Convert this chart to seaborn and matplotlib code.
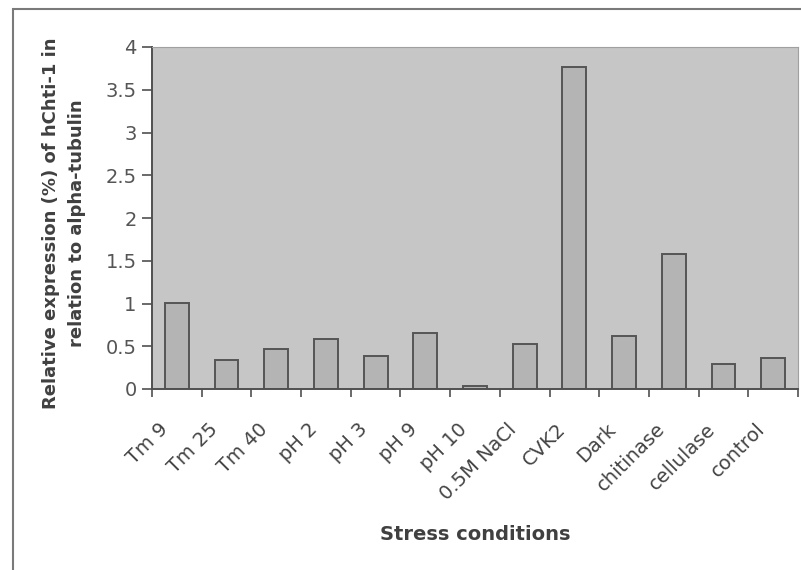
import numpy as np
import pandas as pd
import matplotlib
matplotlib.use('Agg')
import matplotlib.pyplot as plt
import matplotlib.transforms as mtransforms
import seaborn as sns
from matplotlib.patches import Rectangle

# Values
conditions = ['Tm 9', 'Tm 25', 'Tm 40', 'pH 2', 'pH 3', 'pH 9', 'pH 10',
              '0.5M NaCl', 'CVK2', 'Dark', 'chitinase', 'cellulase', 'control']
expression = [1.01, 0.34, 0.47, 0.59, 0.39, 0.66, 0.04,
              0.53, 3.77, 0.62, 1.58, 0.29, 0.36]
y_ticks = [0, 0.5, 1, 1.5, 2, 2.5, 3, 3.5, 4]
y_tick_labels = ['0', '0.5', '1', '1.5', '2', '2.5', '3', '3.5', '4']

data = pd.DataFrame({'condition': conditions, 'expression': expression})

sns.set_style('white')
plt.rcParams['font.family'] = ['DejaVu Sans']

fig = plt.figure(figsize=(8.01, 5.70), dpi=100)
ax = fig.add_axes([152 / 801, 1 - 389 / 570, 646 / 801, 342 / 570])

# outer chart frame (Excel style)
fig.patches.append(Rectangle((13 / 801, -0.2), 1.2, 1.2 - 9 / 570,
                             transform=fig.transFigure, fill=False,
                             edgecolor='#7a7a7a', linewidth=1.5))

ax.set_facecolor('#c6c6c6')
sns.barplot(data=data, x='condition', y='expression', ax=ax, width=0.48,
            color='#b4b4b4', edgecolor='#555555', linewidth=1.4, saturation=1)

ax.set_xlim(-0.5, len(conditions) - 0.5)
ax.set_ylim(0, 4)
ax.set_yticks(y_ticks)
ax.set_yticklabels(y_tick_labels, fontsize=14, color='#555555')
ax.tick_params(axis='y', direction='out', length=7, width=1.2, color='#505050', pad=4, left=True)

# category labels centred, tick marks between categories
ax.set_xticks(range(len(conditions)))
ax.set_xticklabels(conditions, rotation=45, ha='right', va='top', rotation_mode='anchor',
                   fontsize=14, color='#444444')
ax.set_xticks(np.arange(-0.5, len(conditions), 1), minor=True)
ax.tick_params(axis='x', which='major', length=0, pad=22)
ax.tick_params(axis='x', which='minor', direction='out', length=6, width=1.2,
               color='#505050', bottom=True)
shift = mtransforms.ScaledTranslation(-18 / 100, 0, fig.dpi_scale_trans)
for lbl in ax.get_xticklabels():
    lbl.set_transform(lbl.get_transform() + shift)

for side in ['top', 'right']:
    ax.spines[side].set_color('#a0a0a0')
    ax.spines[side].set_linewidth(0.8)
for side in ['left', 'bottom']:
    ax.spines[side].set_color('#505050')
    ax.spines[side].set_linewidth(1.4)

ax.set_xlabel('Stress conditions', fontsize=14, fontweight='bold', color='#404040', va='center')
ax.xaxis.set_label_coords(0.5, (389 - 535) / 342)
ax.set_ylabel('Relative expression (%) of hChti-1 in\nrelation to alpha-tubulin',
              fontsize=13, fontweight='bold', color='#404040', va='center', linespacing=1.6)
ax.yaxis.set_label_coords((64 - 152) / 646, (389 - 223) / 342)

fig.savefig('out.png', dpi=100, facecolor='white')
